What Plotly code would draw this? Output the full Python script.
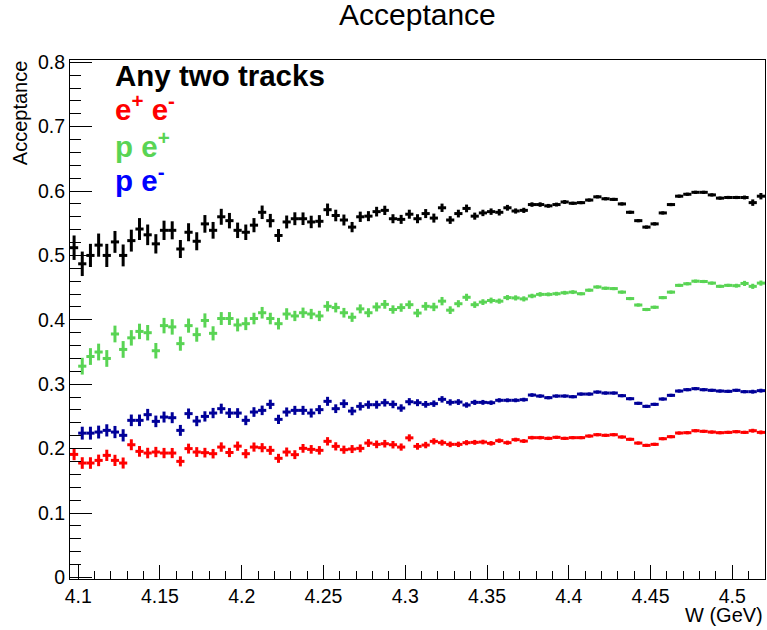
import plotly.graph_objects as go

# ---- histogram binning ----
W_LOW = 4.095
W_HIGH = 4.52
N_BINS = 85
BIN_W = (W_HIGH - W_LOW) / N_BINS
w_centers = [W_LOW + BIN_W * (i + 0.5) for i in range(N_BINS)]

# ---- data (acceptance per bin) ----
any_two = [0.512, 0.487, 0.500, 0.516, 0.500, 0.521, 0.500, 0.523, 0.541, 0.532,
           0.518, 0.539, 0.539, 0.510, 0.536, 0.522, 0.549, 0.539, 0.560, 0.554,
           0.539, 0.536, 0.547, 0.567, 0.554, 0.531, 0.552, 0.557, 0.557, 0.552,
           0.553, 0.571, 0.562, 0.555, 0.544, 0.560, 0.561, 0.568, 0.570, 0.557,
           0.556, 0.564, 0.557, 0.565, 0.558, 0.574, 0.555, 0.565, 0.573, 0.561,
           0.566, 0.568, 0.567, 0.574, 0.569, 0.570, 0.579, 0.579, 0.577, 0.579,
           0.583, 0.581, 0.582, 0.586, 0.591, 0.588, 0.587, 0.580, 0.567, 0.554,
           0.544, 0.549, 0.566, 0.579, 0.592, 0.595, 0.598, 0.598, 0.594, 0.589,
           0.590, 0.590, 0.590, 0.582, 0.592]
any_two_err = [0.019, 0.019, 0.018, 0.018, 0.018, 0.017, 0.017, 0.017, 0.017, 0.016,
               0.015, 0.015, 0.014, 0.014, 0.014, 0.014, 0.0137, 0.013, 0.0124, 0.012,
               0.012, 0.012, 0.011, 0.0105, 0.0105, 0.010, 0.010, 0.010, 0.0098, 0.0097,
               0.0096, 0.0096, 0.009, 0.0085, 0.008, 0.008, 0.0078, 0.0075, 0.0072, 0.007,
               0.007, 0.007, 0.007, 0.007, 0.007, 0.0065, 0.006, 0.006, 0.006, 0.0055,
               0.005, 0.005, 0.005, 0.0045, 0.004, 0.004, 0.0035, 0.0035, 0.003, 0.003,
               0.003, 0.0025, 0.0025, 0.0025, 0.0025, 0.0025, 0.0025, 0.0025, 0.0025, 0.0025,
               0.0025, 0.0025, 0.0025, 0.0025, 0.0025, 0.0025, 0.0025, 0.0025, 0.0025, 0.0025,
               0.0025, 0.0025, 0.003, 0.005, 0.005]

p_eplus = [None, 0.328, 0.343, 0.350, 0.340, 0.378, 0.354, 0.372, 0.382, 0.380,
           0.352, 0.391, 0.389, 0.363, 0.391, 0.377, 0.399, 0.379, 0.402, 0.402,
           0.392, 0.394, 0.402, 0.411, 0.402, 0.394, 0.409, 0.406, 0.411, 0.409,
           0.406, 0.421, 0.419, 0.411, 0.404, 0.417, 0.411, 0.420, 0.424, 0.416,
           0.419, 0.4235, 0.4105, 0.421, 0.420, 0.429, 0.415, 0.425, 0.435, 0.4235,
           0.4275, 0.430, 0.429, 0.4345, 0.434, 0.4325, 0.437, 0.4395, 0.4395, 0.4405,
           0.442, 0.443, 0.4405, 0.446, 0.451, 0.449, 0.4485, 0.443, 0.433, 0.423,
           0.416, 0.4195, 0.4345, 0.443, 0.4535, 0.456, 0.460, 0.4595, 0.457, 0.452,
           0.4535, 0.453, 0.4565, 0.452, 0.457]
p_eplus_err = [0.0, 0.013, 0.013, 0.013, 0.013, 0.013, 0.013, 0.012, 0.012, 0.012,
               0.012, 0.012, 0.012, 0.011, 0.011, 0.011, 0.011, 0.011, 0.010, 0.010,
               0.010, 0.010, 0.009, 0.009, 0.009, 0.009, 0.009, 0.008, 0.008, 0.008,
               0.008, 0.008, 0.0075, 0.0075, 0.0072, 0.007, 0.007, 0.007, 0.0068, 0.0065,
               0.0065, 0.0065, 0.0065, 0.0065, 0.0065, 0.0065, 0.006, 0.0055, 0.0055, 0.005,
               0.0045, 0.0045, 0.004, 0.004, 0.004, 0.004, 0.0035, 0.0035, 0.003, 0.003,
               0.003, 0.003, 0.0025, 0.0025, 0.0025, 0.0025, 0.0025, 0.0025, 0.0025, 0.0025,
               0.0025, 0.0025, 0.0025, 0.0025, 0.0025, 0.0025, 0.0025, 0.0025, 0.0025, 0.0025,
               0.0025, 0.003, 0.004, 0.004, 0.004]

p_eminus = [None, 0.224, 0.224, 0.2257, 0.2283, 0.2257, 0.2206, 0.2439, 0.2439, 0.2527,
            0.2423, 0.249, 0.248, 0.2283, 0.2543, 0.2428, 0.250, 0.2552, 0.262, 0.2552,
            0.2552, 0.2439, 0.2568, 0.2594, 0.2687, 0.2454, 0.2568, 0.2594, 0.2594, 0.2552,
            0.2605, 0.2734, 0.262, 0.2698, 0.2583, 0.2656, 0.2682, 0.2682, 0.2713, 0.2687,
            0.263, 0.2728, 0.2713, 0.2687, 0.2698, 0.2765, 0.2718, 0.2723, 0.2677, 0.2718,
            0.2718, 0.2713, 0.275, 0.275, 0.275, 0.276, 0.2832, 0.2816, 0.2791, 0.2816,
            0.2816, 0.2806, 0.2847, 0.2847, 0.2878, 0.2863, 0.2863, 0.2822, 0.2775, 0.2703,
            0.2656, 0.2687, 0.277, 0.2827, 0.2894, 0.2915, 0.2931, 0.2915, 0.2905, 0.2894,
            0.2889, 0.2905, 0.2884, 0.2884, 0.290]
p_eminus_err = [0.0, 0.010, 0.010, 0.010, 0.0095, 0.0095, 0.0095, 0.009, 0.009, 0.009,
                0.009, 0.0085, 0.0085, 0.0085, 0.008, 0.008, 0.008, 0.008, 0.0078, 0.0077,
                0.0076, 0.0075, 0.0075, 0.0074, 0.0073, 0.0072, 0.0071, 0.007, 0.007, 0.007,
                0.007, 0.007, 0.0068, 0.0066, 0.0065, 0.0064, 0.0063, 0.0062, 0.006, 0.006,
                0.0058, 0.0056, 0.0054, 0.0052, 0.005, 0.005, 0.0048, 0.0045, 0.0042, 0.004,
                0.0038, 0.0035, 0.0033, 0.003, 0.003, 0.003, 0.0028, 0.0027, 0.0026, 0.0025,
                0.0025, 0.0025, 0.0025, 0.0025, 0.0025, 0.0025, 0.0025, 0.0025, 0.0025, 0.0025,
                0.0025, 0.0025, 0.0025, 0.0025, 0.0025, 0.0025, 0.0025, 0.0025, 0.0025, 0.0025,
                0.0025, 0.0025, 0.0025, 0.003, 0.003]

e_pair = [0.191, 0.1776, 0.1776, 0.1817, 0.1895, 0.1817, 0.1776, 0.206, 0.1957, 0.1931,
          0.1947, 0.1931, 0.1931, 0.1802, 0.200, 0.1947, 0.1937, 0.1921, 0.2024, 0.194,
          0.2038, 0.1921, 0.2024, 0.2014, 0.1973, 0.1849, 0.1947, 0.1906, 0.2004, 0.1988,
          0.1973, 0.2113, 0.2035, 0.1983, 0.1993, 0.2004, 0.2086, 0.2066, 0.2076, 0.206,
          0.2024, 0.2167, 0.2035, 0.2055, 0.2113, 0.2092, 0.2066, 0.2066, 0.2092, 0.2097,
          0.2102, 0.2082, 0.2123, 0.2092, 0.2139, 0.2117, 0.217, 0.217, 0.2159, 0.2175,
          0.2159, 0.217, 0.217, 0.2195, 0.2216, 0.2206, 0.2216, 0.218, 0.2144, 0.2086,
          0.205, 0.2066, 0.2154, 0.2185, 0.2242, 0.2247, 0.2278, 0.2268, 0.2257, 0.2247,
          0.2252, 0.2263, 0.2252, 0.2278, 0.2252]
e_pair_err = [0.009, 0.009, 0.009, 0.009, 0.0088, 0.0087, 0.0086, 0.0085, 0.0083, 0.0082,
              0.008, 0.008, 0.0079, 0.0078, 0.0077, 0.0076, 0.0075, 0.0074, 0.0073, 0.0072,
              0.0072, 0.0072, 0.0071, 0.0071, 0.007, 0.007, 0.007, 0.0069, 0.0068, 0.0067,
              0.0066, 0.0065, 0.0064, 0.0063, 0.0062, 0.0061, 0.006, 0.006, 0.0059, 0.0058,
              0.0056, 0.0055, 0.0052, 0.005, 0.0048, 0.0046, 0.0044, 0.0042, 0.004, 0.0038,
              0.0036, 0.0035, 0.0034, 0.0032, 0.003, 0.003, 0.0028, 0.0027, 0.0026, 0.0025,
              0.0025, 0.0025, 0.0025, 0.0025, 0.0025, 0.0025, 0.0025, 0.0025, 0.0025, 0.0025,
              0.0025, 0.0025, 0.0025, 0.0025, 0.0025, 0.0025, 0.0025, 0.0025, 0.0025, 0.0025,
              0.0025, 0.0025, 0.0025, 0.003, 0.003]

x_tick_vals = [4.1, 4.15, 4.2, 4.25, 4.3, 4.35, 4.4, 4.45, 4.5]
x_tick_text = ["4.1", "4.15", "4.2", "4.25", "4.3", "4.35", "4.4", "4.45", "4.5"]
y_tick_vals = [0, 0.1, 0.2, 0.3, 0.4, 0.5, 0.6, 0.7, 0.8]
y_tick_text = ["0", "0.1", "0.2", "0.3", "0.4", "0.5", "0.6", "0.7", "0.8"]

series = [
    ("Any two tracks", any_two, any_two_err, "#000000"),
    ("p e+", p_eplus, p_eplus_err, "rgb(89,212,84)"),
    ("p e-", p_eminus, p_eminus_err, "#000099"),
    ("e+ e-", e_pair, e_pair_err, "#ff0000"),
]

FONT = "Liberation Sans, Arial, Helvetica, sans-serif"

fig = go.Figure()
for name, vals, errs, col in series:
    fig.add_trace(go.Scatter(
        x=w_centers, y=vals, mode="markers", name=name,
        marker=dict(size=1, color=col),
        error_x=dict(type="constant", value=BIN_W / 2, width=0, thickness=3, color=col),
        error_y=dict(type="data", array=errs, width=0, thickness=3, color=col),
        showlegend=False, hoverinfo="x+y",
    ))

fig.update_layout(
    width=767, height=630,
    margin=dict(l=70, r=2, t=60, b=51, pad=0),
    paper_bgcolor="white", plot_bgcolor="white",
    font=dict(family=FONT, color="black"),
    xaxis=dict(
        range=[W_LOW, W_HIGH], showgrid=False, zeroline=False,
        showline=True, linecolor="black", linewidth=1, mirror=True,
        ticks="inside", ticklen=14, tickcolor="black", tickwidth=1,
        tickvals=x_tick_vals, ticktext=x_tick_text,
        tickfont=dict(size=19.5, family=FONT),
        minor=dict(ticks="inside", ticklen=8, dtick=0.01, tick0=4.1,
                   tickcolor="black", tickwidth=1, showgrid=False),
    ),
    yaxis=dict(
        range=[-0.0025, 0.8035], showgrid=False, zeroline=False,
        showline=True, linecolor="black", linewidth=1, mirror=True,
        ticks="inside", ticklen=22, tickcolor="black", tickwidth=1,
        tickvals=y_tick_vals, ticktext=y_tick_text,
        tickfont=dict(size=19.5, family=FONT),
        minor=dict(ticks="inside", ticklen=11, dtick=0.02, tick0=0,
                   tickcolor="black", tickwidth=1, showgrid=False),
    ),
)

ann = []
# title
ann.append(dict(text="Acceptance", x=0.5, y=1.087, xref="paper", yref="paper",
                xanchor="center", yanchor="middle", showarrow=False,
                font=dict(size=30, family=FONT, color="black")))
# axis titles
ann.append(dict(text="W (GeV)", x=1.0, y=-0.0703, xref="paper", yref="paper",
                xanchor="right", yanchor="middle", showarrow=False,
                font=dict(size=20, family=FONT, color="black")))
ann.append(dict(text="Acceptance", x=-0.0709, y=1.0039, xref="paper", yref="paper",
                xanchor="center", yanchor="top", textangle=-90, showarrow=False,
                font=dict(size=20, family=FONT, color="black")))
# legend texts
legend_items = [
    ("<b>Any two tracks</b>", 0.970, "#000000"),
    ("<b>e<sup>+</sup> e<sup>-</sup></b>", 0.908, "#ff0000"),
    ("<b>p e<sup>+</sup></b>", 0.838, "rgb(89,212,84)"),
    ("<b>p e<sup>-</sup></b>", 0.771, "#0000ff"),
]
for txt, yy, col in legend_items:
    ann.append(dict(text=txt, x=0.0619, y=yy, xref="paper", yref="paper",
                    xanchor="left", yanchor="middle", showarrow=False,
                    font=dict(size=29.5, family=FONT, color=col)))
fig.update_layout(annotations=ann)

fig.write_html("out.html", config={"displayModeBar": False},
               post_script="document.body.style.margin='0px';document.body.style.padding='0px';")
